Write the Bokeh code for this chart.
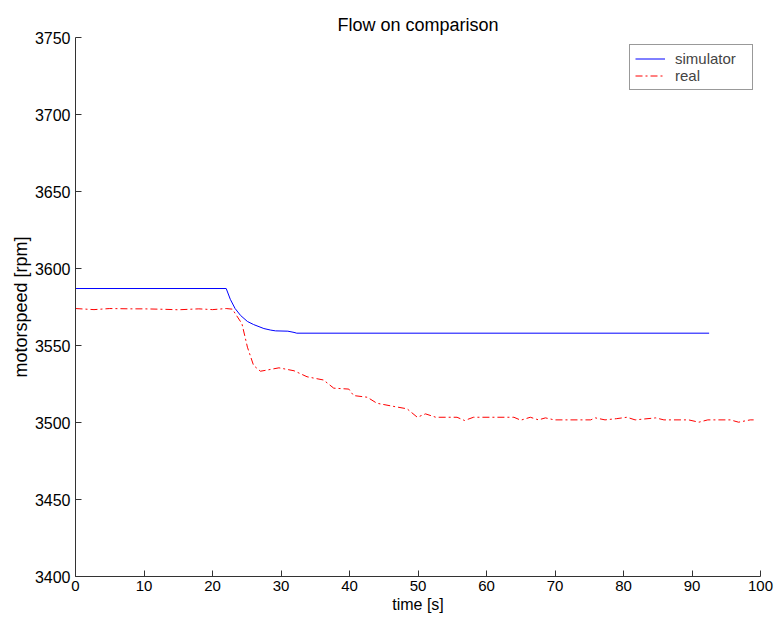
from bokeh.plotting import figure
from bokeh.models import Legend, LegendItem, FixedTicker
from bokeh.embed import file_html
from bokeh.resources import INLINE

# simulator series
sim_t = [0, 22.0, 22.6, 23.3, 24.1, 25.1, 26.0, 27.5, 28.5, 29.2, 31.0, 31.9, 32.3, 92.5]
sim_v = [3587, 3587, 3580, 3574, 3569.5, 3565.6, 3563.6, 3561, 3560, 3559.5, 3559.3, 3558.5, 3558, 3558]

# real series
real_t = [0, 2.7, 5, 8, 10, 13, 15, 18, 20, 22, 22.9, 24.3, 25.1, 26.0, 27.0, 27.9, 29.7, 31.9,
          33.8, 36.2, 37.7, 39.9, 40.6, 42.6, 44.0, 46.5, 48.4, 49.9, 51.1, 52.6, 55.7, 56.8,
          58.1, 64.0, 65.0, 66.4, 67.6, 68.6, 69.9, 75.2, 75.9, 77.3, 79.0, 80.5, 81.7, 84.7,
          85.9, 89.5, 91.0, 92.3, 95.6, 96.8, 98.5, 99.0]
real_v = [3574, 3573.3, 3574, 3573.8, 3573.8, 3573.5, 3573.2, 3573.8, 3573.3, 3574, 3573.6, 3564.1,
          3548.9, 3537, 3533.3, 3534, 3535.5, 3533.6, 3529.7, 3527.6, 3522.3, 3521.7, 3517.5,
          3516.4, 3512.5, 3510.4, 3508.9, 3503.4, 3505.6, 3503.4, 3503.4, 3501.3, 3503.4,
          3503.4, 3501.5, 3503.4, 3501.7, 3503.0, 3501.7, 3501.7, 3503.0, 3501.7, 3502.5,
          3503.4, 3501.7, 3503.0, 3501.7, 3501.7, 3500.2, 3501.7, 3501.7, 3500.2, 3501.7, 3501.7]

x_ticks = [0, 10, 20, 30, 40, 50, 60, 70, 80, 90, 100]
y_ticks = [3400, 3450, 3500, 3550, 3600, 3650, 3700, 3750]

FONT = "Liberation Sans"

p = figure(width=775, height=619, x_range=(0, 100), y_range=(3400, 3750),
           output_backend="svg", toolbar_location=None,
           title="Flow on comparison",
           min_border_left=75, min_border_right=15, min_border_top=37, min_border_bottom=43)
p.title.align = "center"
p.title.text_font = FONT
p.title.text_font_size = "18px"
p.title.text_font_style = "normal"
p.title.text_color = "black"
p.title.standoff = 6
p.outline_line_color = None
p.xgrid.grid_line_color = None
p.ygrid.grid_line_color = None
p.background_fill_color = "white"
p.border_fill_color = "white"

for ax in (p.xaxis[0], p.yaxis[0]):
    ax.axis_line_color = "#333333"
    ax.major_tick_line_color = "#333333"
    ax.major_tick_in = 6
    ax.major_tick_out = 0
    ax.minor_tick_line_color = None
    ax.major_label_text_font = FONT
    ax.major_label_text_font_size = "15px"
    ax.major_label_text_color = "black"
    ax.axis_label_text_font = FONT
    ax.axis_label_text_font_style = "normal"
    ax.axis_label_text_color = "black"

p.xaxis.axis_label_text_font_size = "16px"
p.yaxis.axis_label_text_font_size = "18px"
p.yaxis.major_label_text_font_size = "16px"
p.xaxis.ticker = FixedTicker(ticks=x_ticks)
p.yaxis.ticker = FixedTicker(ticks=y_ticks)
p.xaxis.axis_label = "time [s]"
p.yaxis.axis_label = "motorspeed [rpm]"
p.xaxis.major_label_standoff = 4
p.yaxis.major_label_standoff = 5
p.xaxis.axis_label_standoff = 2
p.yaxis.axis_label_standoff = 1

r_sim = p.line(sim_t, sim_v, line_color="#0000ff", line_width=1)
r_real = p.line(real_t, real_v, line_color="#ff0000", line_width=1, line_dash="7 3 2 3")

legend = Legend(items=[LegendItem(label="simulator", renderers=[r_sim]),
                       LegendItem(label="real", renderers=[r_real])],
                location="top_right")
legend.label_text_font = FONT
legend.label_text_font_size = "15px"
legend.label_height = 16
legend.label_width = 72
legend.glyph_height = 17
legend.glyph_width = 30
legend.spacing = 0
legend.padding = 5
legend.margin = 7
legend.border_line_color = "#333333"
legend.border_line_width = 1
legend.label_standoff = 10
p.add_layout(legend)

open("out.html", "w").write(file_html(p, INLINE))
